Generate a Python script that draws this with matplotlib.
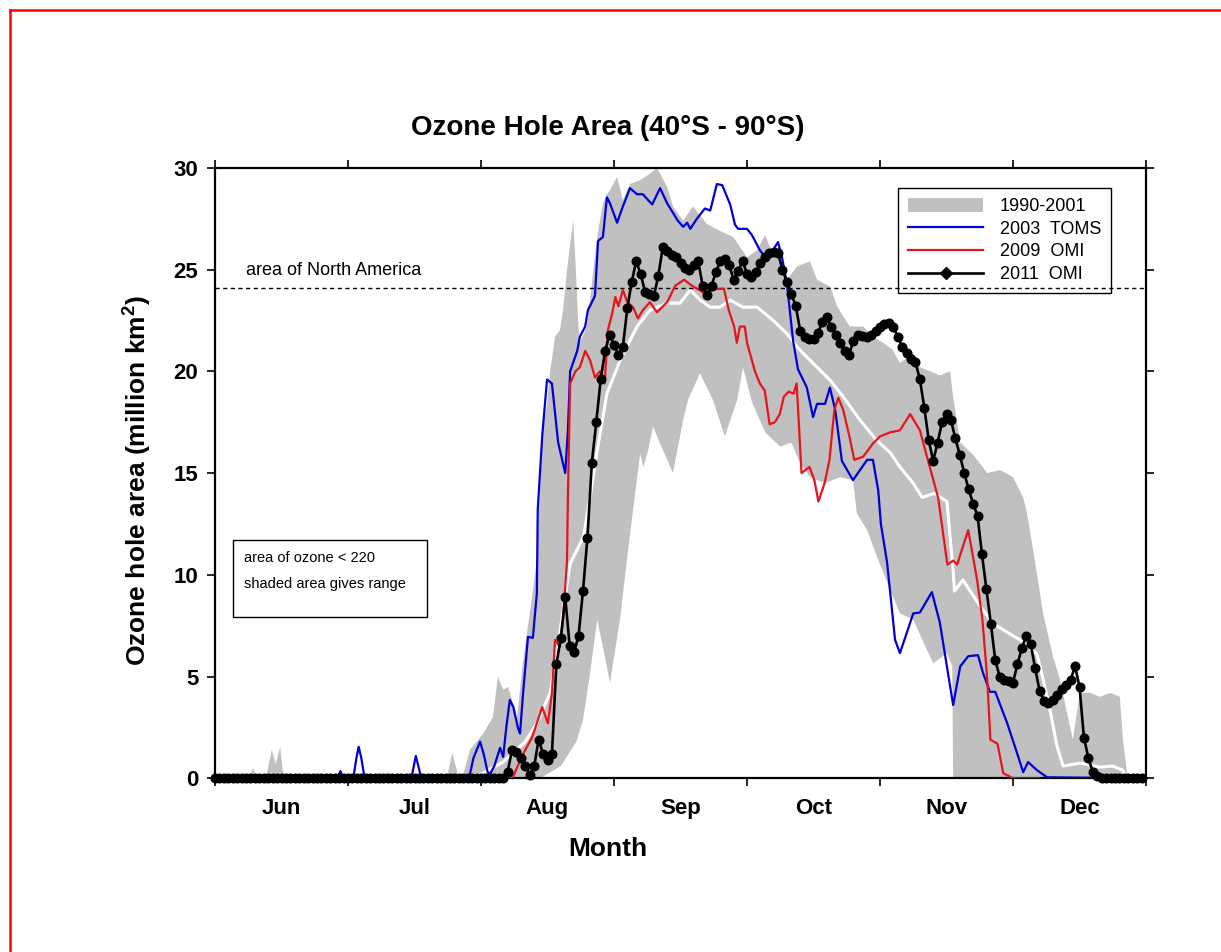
#!/usr/bin/env python3
"""Ozone hole area, 40S-90S: 1990-2001 range vs 2003, 2009 and 2011"""
import matplotlib
matplotlib.use('Agg')
import matplotlib.pyplot as plt
import numpy as np
from matplotlib.lines import Line2D
from matplotlib.patches import Rectangle

plt.rcParams['font.family'] = ['Liberation Sans', 'DejaVu Sans']
plt.rcParams['mathtext.fontset'] = 'custom'
plt.rcParams['mathtext.rm'] = 'Liberation Sans:bold'
plt.rcParams['mathtext.bf'] = 'Liberation Sans:bold'

# x axis is day of year
month_names = ['Jun', 'Jul', 'Aug', 'Sep', 'Oct', 'Nov', 'Dec']
month_edges = [150, 180, 210, 240, 270, 300, 330, 360]
north_america = 24.1

# 1990-2001 range (upper / lower envelope)
range_hi_day = [150, 157.5, 158.6, 159.5, 161.5, 162.8, 163.7, 164.7, 165.5, 188, 188.8, 189.6,
                202.3, 203.5, 204.8, 205.9, 207.5, 210.5, 212.7, 213.8, 215.0, 216.1, 217.7, 218.1,
                219.5, 221.1, 222.6, 223.3, 223.8, 224.9, 225.6, 226.7, 227.8, 228.5, 229.4, 230.8,
                231.4, 231.9, 232.3, 233.9, 236.2, 237.5, 238.4, 239.1, 240.7, 242.0, 243.6, 245.9,
                248.1, 249.7, 252.0, 253.3, 255.6, 257.8, 260.9, 263.9, 266.9, 270.0, 272.3, 274.1,
                275.2, 276.8, 279.0, 281.3, 284.2, 285.8, 288.8, 290.3, 293.2, 296.2, 298.4, 300.7,
                302.9, 304.5, 307.5, 309.0, 311.3, 313.5, 315.8, 316.5, 318.1, 321.0, 324.2, 327.1,
                330.0, 332.3, 333.2, 335.4, 336.8, 339.0, 340.6, 342.2, 343.5, 345.1, 347.4, 349.6,
                351.9, 354.1, 354.8, 355.7, 356.5]
range_hi_val = [0, 0, 0.5, 0, 0, 1.4, 0.7, 1.55, 0, 0, 0.3, 0,
                0, 1.25, 0.2, 0.1, 1.4, 2.2, 3.0, 5.0, 4.35, 4.5, 3.35, 2.9,
                5.8, 8.25, 10.7, 14.0, 16.8, 18.4, 20.0, 21.7, 22.0, 23.0, 25.0, 27.4,
                25.0, 22.5, 21.4, 22.2, 26.6, 28.25, 28.7, 28.9, 29.55, 28.4, 29.2, 29.4,
                29.7, 30.0, 29.05, 28.1, 27.4, 28.1, 27.25, 26.9, 26.6, 25.6, 25.95, 26.7,
                26.1, 25.8, 24.5, 25.15, 25.4, 24.5, 24.15, 23.2, 22.2, 22.2, 21.7, 21.4,
                21.05, 20.4, 20.9, 20.2, 20.0, 19.8, 20.0, 18.75, 16.5, 15.9, 15.0, 15.15,
                14.8, 13.8, 13.0, 10.05, 8.1, 6.0, 4.85, 3.2, 1.9, 4.2, 4.2, 4.0,
                4.2, 4.0, 1.9, 0.3, 0]
range_lo_day = [150, 223.3, 228.0, 231.5, 233.0, 234.5, 236.2, 237.5, 239.1, 241.4, 242.9, 244.3,
                245.9, 246.6, 247.7, 248.8, 250.4, 253.3, 255.6, 256.7, 259.4, 262.3, 265.0, 267.8,
                269.1, 271.1, 274.1, 277.5, 280.0, 282.0, 284.2, 287.6, 291.0, 293.9, 294.8, 297.1,
                299.3, 302.3, 304.5, 307.5, 310.6, 312.0, 315.1, 316.3, 316.5, 356.5]
range_lo_val = [0, 0, 0.6, 1.8, 2.85, 5.0, 7.8, 6.45, 4.7, 7.9, 10.7, 13.2,
                15.95, 15.3, 16.1, 17.3, 16.45, 15.0, 17.6, 18.6, 19.9, 18.6, 16.8, 18.6,
                20.2, 18.5, 17.0, 16.3, 16.5, 15.5, 14.8, 14.5, 14.8, 14.65, 13.0, 12.2,
                10.9, 9.25, 8.1, 7.8, 6.3, 5.65, 6.15, 5.5, 0, 0]

# 1990-2001 mean (white line)
mean_day = [205, 210, 215, 220, 222.6, 225.6, 228.0, 230.1, 233.1, 234.6, 236.2, 238.4, 241.4,
            245.2, 248.1, 252.0, 254.9, 257.2, 259.4, 261.7, 263.9, 266.2, 269.1, 272.3, 275.9,
            279.0, 281.3, 282.6, 285.8, 288.8, 291.7, 295.5, 299.3, 302.3, 304.5, 307.5, 309.5,
            312.3, 315.1, 316.5, 316.8, 318.7, 322.6, 325.5, 329.3, 331.6, 335.4, 336.8, 338.4,
            339.9, 341.3, 345.1, 349.6, 352.5, 354.8, 355.5]
mean_val = [0, 0.2, 0.8, 1.8, 2.7, 4.2, 7.5, 10.55, 11.85, 13.8, 16.1, 18.9, 20.55,
            22.2, 23.0, 23.35, 23.35, 24.0, 23.5, 23.15, 23.15, 23.5, 23.15, 23.15, 22.5,
            21.85, 21.2, 20.9, 20.2, 19.55, 18.75, 17.6, 16.6, 16.0, 15.3, 14.5, 13.8,
            14.0, 13.6, 10.2, 9.2, 9.75, 8.45, 7.6, 7.1, 6.8, 6.1, 4.85, 3.3,
            1.6, 0.6, 0.75, 0.55, 0.6, 0.4, 0.0]

# 2003 TOMS
toms03_day = [150, 177.5, 178.3, 179.0, 181.2, 181.9, 182.4, 183.0, 183.6, 184.0, 194.3, 195.3,
              196.2, 196.8, 207.3, 208.3, 209.8, 210.6, 211.5, 212.0, 213.0, 214.3, 215.0, 215.7,
              216.5, 217.3, 218.3, 218.8, 219.5, 220.6, 221.7, 222.6, 222.8, 223.3, 223.8, 224.9,
              226.0, 227.4, 229.0, 229.6, 230.1, 231.7, 232.3, 233.5, 234.1, 235.7, 236.2, 236.4,
              237.5, 238.4, 239.1, 240.7, 242.0, 243.6, 245.2, 246.5, 248.6, 250.4, 252.0, 254.4,
              255.6, 256.5, 257.2, 258.7, 260.5, 261.7, 263.2, 264.4, 266.2, 267.3, 268.0, 270.0,
              271.1, 272.9, 274.5, 277.0, 277.9, 279.0, 279.7, 280.4, 281.5, 283.5, 284.9, 285.8,
              287.6, 288.7, 289.9, 291.4, 293.9, 297.1, 298.4, 299.6, 300.2, 301.6, 303.4, 304.5,
              307.5, 309.0, 311.7, 313.5, 316.5, 318.1, 319.9, 322.1, 323.2, 324.8, 326.0, 328.7,
              330.9, 332.3, 333.4, 335.4, 337.7, 359]
toms03_val = [0, 0, 0.35, 0, 0, 1.0, 1.55, 1.0, 0.2, 0, 0, 1.1,
              0.3, 0, 0, 1.0, 1.8, 1.2, 0.3, 0.2, 0.6, 1.5, 1.05, 2.5,
              3.85, 3.5, 2.5, 2.2, 4.2, 6.95, 6.9, 9.1, 13.2, 15.0, 16.8, 19.6,
              19.4, 16.5, 15.0, 17.1, 20.0, 21.0, 21.7, 22.2, 23.0, 23.7, 25.6, 26.4,
              26.6, 28.55, 28.25, 27.3, 28.1, 29.0, 28.7, 28.7, 28.2, 29.0, 28.25, 27.4,
              27.1, 27.3, 27.0, 27.5, 28.0, 27.9, 29.2, 29.15, 28.2, 27.2, 27.0, 27.0,
              26.7, 25.95, 25.5, 26.35, 25.6, 24.3, 22.9, 21.5, 20.1, 19.2, 17.75, 18.4,
              18.4, 19.2, 18.1, 15.6, 14.65, 15.65, 15.65, 14.15, 12.5, 10.6, 6.8, 6.15,
              8.1, 8.15, 9.15, 7.65, 3.6, 5.5, 6.0, 6.05, 5.2, 4.25, 4.25, 2.7,
              1.25, 0.3, 0.8, 0.4, 0.05, 0]

# 2009 OMI
omi09_day = [150, 212.0, 217.2, 219.5, 221.5, 223.8, 225.1, 226.0, 226.7, 227.8, 228.5, 229.4,
             229.6, 230.1, 231.3, 232.3, 233.5, 234.6, 235.7, 236.8, 237.9, 238.6, 239.6, 240.3,
             241.0, 242.0, 243.0, 244.3, 245.4, 246.5, 248.1, 249.7, 252.0, 253.8, 255.8, 257.6,
             259.2, 260.6, 262.6, 264.8, 265.9, 267.1, 267.7, 268.4, 269.5, 270.0, 271.8, 272.9,
             274.0, 275.1, 276.3, 277.4, 278.3, 279.4, 280.5, 281.2, 281.9, 282.3, 284.1, 285.2,
             286.1, 287.5, 288.6, 289.7, 290.6, 291.7, 293.1, 294.2, 296.2, 298.4, 300.0, 302.3,
             304.5, 306.8, 309.0, 310.6, 313.1, 315.2, 316.5, 317.4, 319.9, 321.9, 323.1, 324.2,
             324.9, 326.5, 327.8, 330.0, 336.0]
omi09_val = [0, 0, 0.07, 1.2, 2.0, 3.5, 2.7, 4.2, 6.8, 6.45, 7.8, 10.7,
             13.8, 19.4, 20.0, 20.2, 21.0, 20.55, 19.7, 20.0, 19.4, 22.0, 22.85, 23.65,
             23.2, 24.0, 23.4, 23.15, 22.6, 23.0, 23.4, 22.9, 23.4, 24.2, 24.5, 24.2,
             24.0, 23.8, 24.05, 24.05, 23.0, 22.2, 21.4, 22.2, 22.2, 21.4, 20.0, 19.4,
             19.05, 17.4, 17.5, 17.9, 18.75, 19.0, 18.9, 19.4, 16.6, 15.0, 15.3, 14.65,
             13.6, 14.5, 15.65, 18.1, 18.7, 18.1, 16.8, 15.65, 15.8, 16.45, 16.8, 17.0,
             17.1, 17.9, 17.1, 15.8, 13.8, 10.5, 10.7, 10.5, 12.2, 9.75, 7.8, 4.85,
             1.9, 1.7, 0.25, 0, 0]

# 2011 OMI, one value per day from day 150 to 359
omi11_day = np.arange(150, 360)
omi11_val = [0, 0, 0, 0, 0, 0, 0, 0, 0, 0,
             0, 0, 0, 0, 0, 0, 0, 0, 0, 0,
             0, 0, 0, 0, 0, 0, 0, 0, 0, 0,
             0, 0, 0, 0, 0, 0, 0, 0, 0, 0,
             0, 0, 0, 0, 0, 0, 0, 0, 0, 0,
             0, 0, 0, 0, 0, 0, 0, 0, 0, 0,
             0, 0, 0, 0, 0, 0,
             0.3, 1.4, 1.3, 1.0, 0.6, 0.15, 0.6, 1.9, 1.2, 0.9,
             1.2, 5.6, 6.9, 8.9, 6.5, 6.2, 7.0, 9.2, 11.8, 15.5,
             17.5, 19.6, 21.0, 21.8, 21.3, 20.8, 21.2, 23.1, 24.4, 25.4,
             24.8, 23.9, 23.8, 23.7, 24.7, 26.1, 25.9, 25.7, 25.6, 25.3,
             25.1, 25.0, 25.2, 25.4, 24.2, 23.75, 24.2, 24.9, 25.4, 25.5,
             25.2, 24.5, 24.95, 25.4, 24.8, 24.65, 24.9, 25.3, 25.6, 25.8,
             25.85, 25.8, 25.0, 24.4, 23.8, 23.2, 22.0, 21.7, 21.6, 21.6,
             21.9, 22.4, 22.65, 22.2, 21.8, 21.4, 21.0, 20.8, 21.5, 21.8,
             21.75, 21.7, 21.8, 22.0, 22.2, 22.3, 22.35, 22.2, 21.7, 21.2,
             20.9, 20.6, 20.45, 19.6, 18.2, 16.6, 15.6, 16.5, 17.5, 17.9,
             17.6, 16.7, 15.9, 15.0, 14.2, 13.5, 12.9, 11.0, 9.3, 7.6,
             5.8, 5.0, 4.85, 4.8, 4.7, 5.6, 6.4, 7.0, 6.6, 5.4,
             4.3, 3.8, 3.7, 3.85, 4.1, 4.4, 4.6, 4.85, 5.5, 4.5,
             2.0, 1.0, 0.3, 0.1,
             0, 0, 0, 0, 0, 0, 0, 0, 0, 0]

gray_c = '#c0c0c0'
blue_c = '#0000d8'
red_c = '#e8141c'

fig = plt.figure(figsize=(12.21, 9.52), dpi=100)
ax = fig.add_axes([215 / 1221, 1 - 778.3 / 952, 931 / 1221, 610.5 / 952])

# shaded 1990-2001 range
ax.fill(np.concatenate([range_hi_day, range_lo_day[::-1]]),
        np.concatenate([range_hi_val, range_lo_val[::-1]]),
        color=gray_c, lw=0, zorder=1)
ax.plot(mean_day, mean_val, color='white', lw=2.2, zorder=2)
ax.axhline(north_america, color='black', ls=(0, (3, 2.5)), lw=1.0, zorder=3)
ax.plot(toms03_day, toms03_val, color=blue_c, lw=1.6, zorder=4)
ax.plot(omi09_day, omi09_val, color=red_c, lw=1.6, zorder=5)
ax.plot(omi11_day, omi11_val, color='black', lw=1.9, marker='o', ms=6.2,
        zorder=6, clip_on=False)

ax.set_xlim(150, 360)
ax.set_ylim(0, 30)
ax.set_xticks(month_edges)
ax.set_xticklabels([])
ax.set_xticks([(a + b) / 2 for a, b in zip(month_edges[:-1], month_edges[1:])], minor=True)
ax.set_xticklabels(month_names, minor=True, fontsize=16, fontweight='bold')
ax.tick_params(axis='x', which='minor', length=0, pad=14)
ax.set_yticks(range(0, 31, 5))
ax.set_yticklabels([str(v) for v in range(0, 31, 5)], fontsize=16, fontweight='bold')
ax.tick_params(which='major', direction='out', length=6, width=1.2,
               top=True, right=True, labeltop=False, labelright=False)
ax.tick_params(axis='y', pad=6)
for s in ax.spines.values():
    s.set_linewidth(1.6)

ax.text(157, 24.55, 'area of North America', fontsize=13, va='bottom', ha='left')

# note box
ax.add_patch(Rectangle((0.0193, 0.2642), 0.2084, 0.1261, transform=ax.transAxes,
                       fill=False, edgecolor='black', lw=1.0, zorder=7))
ax.text(0.031, 0.3608, 'area of ozone < 220', transform=ax.transAxes,
        fontsize=10.5, va='center', ha='left')
ax.text(0.031, 0.3183, 'shaded area gives range', transform=ax.transAxes,
        fontsize=10.5, va='center', ha='left')

handles = [Line2D([], [], color=gray_c, lw=10, solid_capstyle='butt'),
           Line2D([], [], color=blue_c, lw=1.6),
           Line2D([], [], color=red_c, lw=1.6),
           Line2D([], [], color='black', lw=1.9, marker='D', ms=6)]
labels = ['1990-2001', '2003  TOMS', '2009  OMI', '2011  OMI']
leg = ax.legend(handles, labels, loc='upper right', bbox_to_anchor=(1111 / 1221, 1 - 188 / 952),
                bbox_transform=fig.transFigure, fontsize=13, frameon=True, fancybox=False,
                facecolor='none', edgecolor='black', framealpha=1, handlelength=4.2,
                handletextpad=0.9, labelspacing=0.32, borderpad=0.55, borderaxespad=0)
leg.get_frame().set_linewidth(1.0)

fig.text(608 / 1221, 1 - 128 / 952, 'Ozone Hole Area (40°S - 90°S)',
         fontsize=20, fontweight='bold', ha='center', va='center')
fig.text(608 / 1221, 1 - 849 / 952, 'Month', fontsize=19, fontweight='bold',
         ha='center', va='center')
fig.text(137 / 1221, 1 - 480 / 952, r'Ozone hole area (million km$^{\mathbf{2}}$)',
         fontsize=19, fontweight='bold', ha='center', va='center', rotation=90)

# red frame around the page
fx, fy = 10 / 1221, 1 - 10 / 952
fig.add_artist(Line2D([fx, fx], [0, fy], color='red', lw=1.8, transform=fig.transFigure))
fig.add_artist(Line2D([fx, 1], [fy, fy], color='red', lw=1.8, transform=fig.transFigure))

fig.savefig('out.png', dpi=100)
print("[OK] out.png saved")
